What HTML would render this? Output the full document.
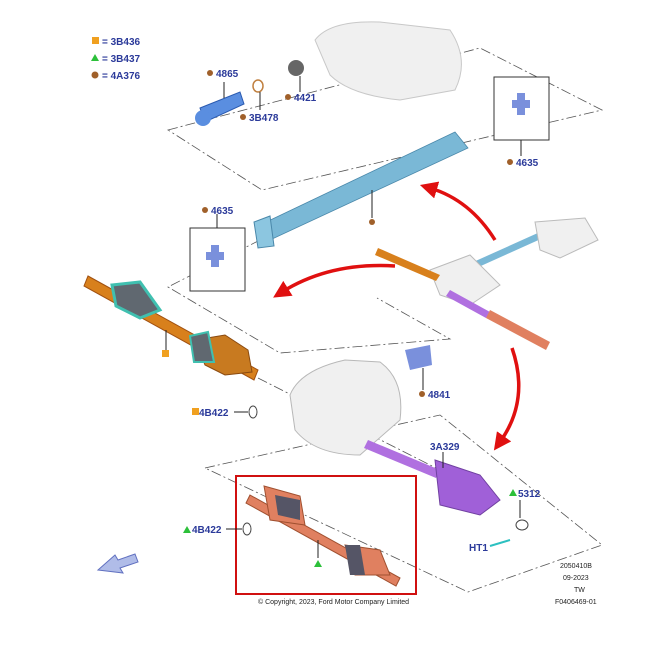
<!DOCTYPE html>
<html><head><meta charset="utf-8"><style>
html,body{margin:0;padding:0;background:#fff;}
svg{display:block;}
text{font-family:"Liberation Sans",sans-serif;}
.l{fill:#2b3a9a;font-size:10px;font-weight:bold;}
.s{fill:#222;font-size:7px;}
</style></head><body>
<svg width="669" height="665" viewBox="0 0 669 665" xmlns="http://www.w3.org/2000/svg">
<defs>
<marker id="ah" markerWidth="5" markerHeight="5" refX="2" refY="2.5" orient="auto"><path d="M0,0 L5,2.5 L0,5z" fill="#e01010"/></marker>
</defs>
<!-- legend -->
<rect x="92" y="37" width="7" height="7" fill="#f0a020"/><text x="102" y="45" class="l">= 3B436</text>
<polygon points="95,54 99,61 91,61" fill="#2cc03a"/><text x="102" y="62" class="l">= 3B437</text>
<circle cx="95" cy="75" r="3.5" fill="#a0602a"/><text x="102" y="79" class="l">= 4A376</text>

<!-- dashed panels -->
<g fill="none" stroke="#555" stroke-width="0.8" stroke-dasharray="10,3,2,3">
<polygon points="168,130 480,48 602,110 262,190"/>
<polyline points="260,240 168,287 280,353 450,339 377,298"/>
<polygon points="205,468 440,415 602,545 468,592"/>
<line x1="258" y1="378" x2="440" y2="470"/>
</g>

<!-- grey gearbox top -->
<path d="M315,40 Q330,20 380,22 L450,30 Q470,60 455,90 L400,100 Q350,95 330,75 Z" fill="#f0f0f0" stroke="#c8c8c8"/>
<!-- top blue shaft -->
<polygon points="262,224 455,132 468,148 270,240" fill="#7ab8d6" stroke="#4a88aa" stroke-width="0.8"/>
<polygon points="254,222 270,216 274,246 258,248" fill="#8cc6e0" stroke="#4a88aa"/>
<line x1="372" y1="190" x2="372" y2="218" stroke="#222"/><circle cx="372" cy="222" r="3" fill="#a0602a"/>
<!-- 4865 yoke -->
<polygon points="200,108 240,92 244,104 205,122" fill="#5a8ee0" stroke="#2a5ab0"/>
<circle cx="203" cy="118" r="8" fill="#5a8ee0"/>
<line x1="224" y1="82" x2="224" y2="98" stroke="#222"/>
<ellipse cx="258" cy="86" rx="5" ry="6" fill="none" stroke="#c08040" stroke-width="1.5"/>
<line x1="260" y1="92" x2="260" y2="110" stroke="#222"/>
<circle cx="296" cy="68" r="8" fill="#666"/>
<line x1="300" y1="76" x2="300" y2="92" stroke="#222"/>
<circle cx="210" cy="73" r="3" fill="#a0602a"/><text x="216" y="77" class="l">4865</text>
<circle cx="243" cy="117" r="3" fill="#a0602a"/><text x="249" y="121" class="l">3B478</text>
<circle cx="288" cy="97" r="3" fill="#a0602a"/><text x="294" y="101" class="l">4421</text>

<!-- u-joint boxes -->
<rect x="494" y="77" width="55" height="63" fill="#fff" stroke="#333"/>
<rect x="190" y="228" width="55" height="63" fill="#fff" stroke="#333"/>
<g fill="#7a90dc"><rect x="512" y="100" width="18" height="8"/><rect x="517" y="93" width="8" height="22"/>
<rect x="206" y="252" width="18" height="8"/><rect x="211" y="245" width="8" height="22"/></g>
<line x1="521" y1="140" x2="521" y2="156" stroke="#222"/>
<circle cx="510" cy="162" r="3" fill="#a0602a"/><text x="516" y="166" class="l">4635</text>
<line x1="217" y1="214" x2="217" y2="228" stroke="#222"/>
<circle cx="205" cy="210" r="3" fill="#a0602a"/><text x="211" y="214" class="l">4635</text>

<!-- orange left axle -->
<polygon points="88,276 258,370 254,380 84,286" fill="#d8801c" stroke="#a05010"/>
<polygon points="112,285 140,282 160,310 140,318 116,306" fill="#606870" stroke="#40c0b0" stroke-width="3"/>
<polygon points="195,340 225,335 248,350 252,372 225,375 205,365" fill="#c87a20" stroke="#8a4a10"/>
<polygon points="190,336 208,332 214,362 194,362" fill="#606870" stroke="#40c0b0" stroke-width="2"/>
<line x1="166" y1="330" x2="166" y2="350" stroke="#222"/><rect x="162" y="350" width="7" height="7" fill="#f0a020"/>
<rect x="192" y="408" width="7" height="7" fill="#f0a020"/><text x="199" y="416" class="l">4B422</text>
<line x1="234" y1="412" x2="248" y2="412" stroke="#222"/><ellipse cx="253" cy="412" rx="4" ry="6" fill="none" stroke="#444"/>

<!-- central gearbox -->
<path d="M290,395 Q300,370 345,360 L380,362 Q405,380 400,420 L360,455 Q315,455 295,430 Z" fill="#f0f0f0" stroke="#b8b8b8"/>
<path d="M405,350 L430,345 L432,365 L410,370 Z" fill="#7a90dc"/>
<line x1="423" y1="368" x2="423" y2="390" stroke="#222"/>
<circle cx="422" cy="394" r="3" fill="#a0602a"/><text x="428" y="398" class="l">4841</text>

<!-- purple shaft -->
<polygon points="368,440 440,470 436,478 364,448" fill="#b070e0"/>
<path d="M435,460 L480,475 L500,500 L480,515 L440,505 Z" fill="#a060d8" stroke="#7040a0"/>
<line x1="443" y1="452" x2="443" y2="468" stroke="#222"/>
<text x="430" y="450" class="l">3A329</text>
<polygon points="513,489 517,496 509,496" fill="#2cc03a"/><text x="518" y="497" class="l">5312</text>
<line x1="520" y1="500" x2="520" y2="518" stroke="#222"/><ellipse cx="522" cy="525" rx="6" ry="5" fill="none" stroke="#444"/>
<text x="469" y="551" class="l">HT1</text><line x1="490" y1="546" x2="510" y2="540" stroke="#2cc0c0" stroke-width="2"/>

<!-- right inset -->
<polygon points="460,268 540,232 543,238 463,274" fill="#7ab8d6"/>
<path d="M535,222 L585,218 L598,240 L560,258 L540,250 Z" fill="#f0f0f0" stroke="#bbb"/>
<path d="M430,270 L470,255 L500,285 L470,305 L440,295 Z" fill="#f0f0f0" stroke="#bbb"/>
<polygon points="378,248 440,275 436,281 375,255" fill="#d8801c"/>
<polygon points="450,290 490,312 486,318 446,296" fill="#b070e0"/>
<polygon points="490,310 550,342 546,350 486,318" fill="#e08060"/>

<!-- red arrows -->
<g fill="none" stroke="#e01010" stroke-width="3.5">
<path d="M495,240 Q470,200 430,188" marker-end="url(#ah)"/>
<path d="M395,266 Q330,262 282,292" marker-end="url(#ah)"/>
<path d="M512,348 Q530,400 500,442" marker-end="url(#ah)"/>
</g>

<!-- red box bottom -->
<rect x="236" y="476" width="180" height="118" fill="none" stroke="#d01010" stroke-width="2"/>
<polygon points="250,495 400,578 396,586 246,503" fill="#e08060" stroke="#a05030"/>
<polygon points="264,486 300,496 305,525 270,520" fill="#e08060" stroke="#a05030"/>
<polygon points="275,495 300,500 300,520 278,515" fill="#556"/>
<polygon points="345,545 380,550 390,575 355,575" fill="#e08060" stroke="#a05030"/>
<polygon points="345,545 360,545 365,575 350,575" fill="#556"/>
<line x1="318" y1="540" x2="318" y2="558" stroke="#222"/><polygon points="318,560 322,567 314,567" fill="#2cc03a"/>
<polygon points="187,526 191,533 183,533" fill="#2cc03a"/><text x="192" y="533" class="l">4B422</text>
<line x1="226" y1="529" x2="242" y2="529" stroke="#222"/><ellipse cx="247" cy="529" rx="4" ry="6" fill="none" stroke="#444"/>

<!-- nav arrow -->
<polygon points="98,570 115,555 118,560 135,554 138,562 120,568 123,573" fill="#b0bce8" stroke="#6070c0"/>

<text x="258" y="604" class="s">© Copyright, 2023, Ford Motor Company Limited</text>
<text x="560" y="568" class="s">2050410B</text>
<text x="563" y="580" class="s">09-2023</text>
<text x="574" y="592" class="s">TW</text>
<text x="555" y="604" class="s">F0406469-01</text>
</svg>
</body></html>
